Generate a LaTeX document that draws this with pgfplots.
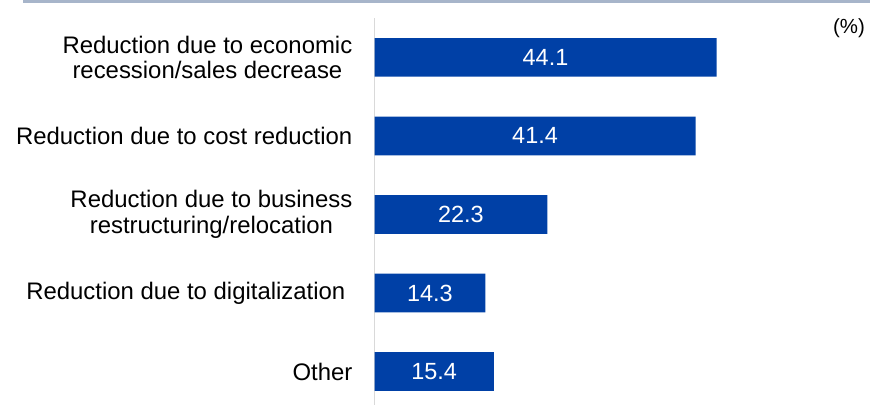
\documentclass[border=0pt]{standalone}
\usepackage{pgfplots}
\pgfplotsset{compat=1.18}
\usepackage{pgfplotstable}
\usepackage{fontspec}
\setmainfont{Liberation Sans}

\definecolor{barblue}{HTML}{0040A6}
\definecolor{axisgray}{HTML}{D9D9D9}
\definecolor{bandblue}{HTML}{A7B5CA}

% Share of firms by reason for reducing staff (%)
\pgfplotstableread{
y v
0 44.1
1 41.4
2 22.3
3 14.3
4 15.4
}\reasons

\begin{document}
\begin{tikzpicture}[x=1bp,y=1bp]
% thin band along the top edge
\fill[bandblue] (23,402) rectangle (870,405);
\begin{axis}[
  at={(374.5bp,0bp)}, anchor=south west,
  scale only axis,
  width=465.3bp, height=386.9bp,
  xmin=0, xmax=60,
  ymin=-0.5, ymax=4.426,
  y dir=reverse,
  hide x axis,
  axis y line*=left,
  y axis line style={draw=axisgray, line width=1.5bp},
  ytick={0,1,2,3,4},
  yticklabels={
    {Reduction due to economic\\recession/sales decrease},
    {Reduction due to cost reduction},
    {Reduction due to business\\restructuring/relocation},
    {Reduction due to digitalization\hspace*{7bp}},
    {Other}},
  yticklabel style={align=center, inner sep=0pt, anchor=east, xshift=-22bp,
    font=\fontsize{24}{25.5}\selectfont},
  major tick length=0pt,
  xbar, bar width=38.7bp,
  clip=false,
]
\addplot[fill=barblue, draw=none, bar shift=0pt] table[x=v, y=y] {\reasons};
% value labels centred inside each bar
\addplot[draw=none, mark=none, xbar=0pt, bar width=0pt, bar shift=0pt,
  point meta=explicit, nodes near coords,
  nodes near coords style={anchor=center, text=white, inner sep=0pt,
    font=\fontsize{23.5}{25}\selectfont,
    /pgf/number format/fixed, /pgf/number format/fixed zerofill,
    /pgf/number format/precision=1, /pgf/number format/assume math mode=true}]
  table[x expr=\thisrow{v}/2, y=y, meta=v] {\reasons};
\end{axis}
\node[font=\fontsize{20.5}{22}\selectfont, inner sep=0pt] at (849,377) {(\%)};
\pgfresetboundingbox
\useasboundingbox (0,0) rectangle (881,405);
\end{tikzpicture}
\end{document}
